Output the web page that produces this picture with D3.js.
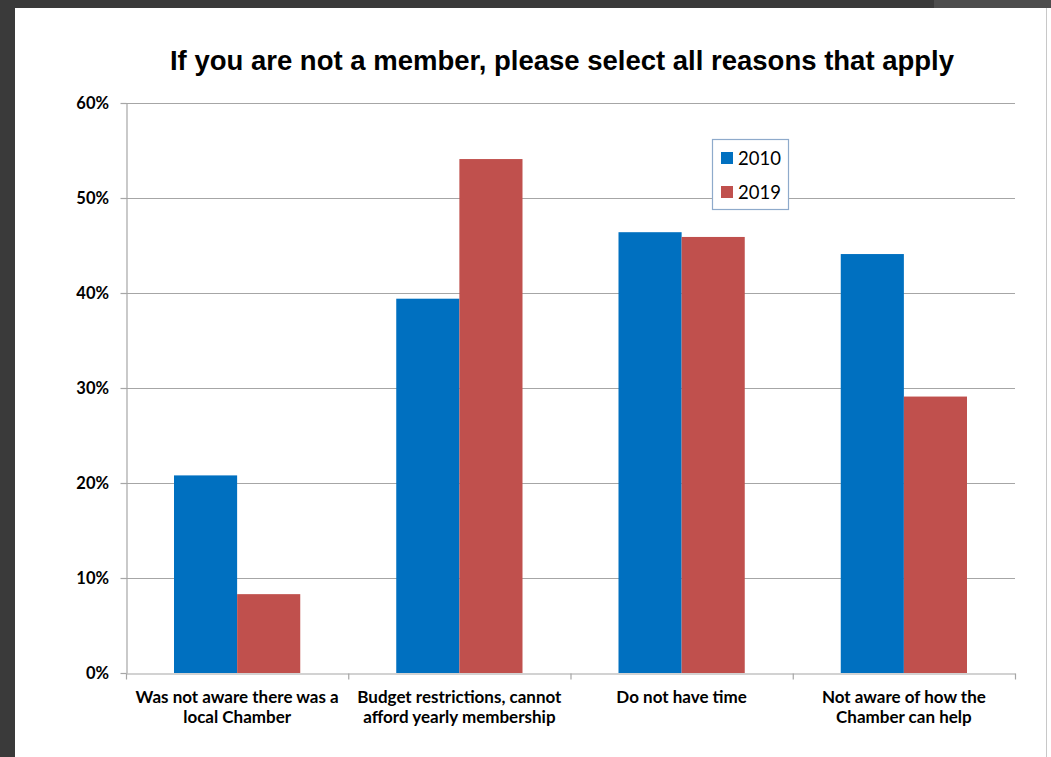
<!DOCTYPE html>
<html>
<head>
<meta charset="utf-8">
<script src="https://cdn.jsdelivr.net/npm/d3@7/dist/d3.min.js"></script>
<style>
  html, body { margin: 0; padding: 0; background: #3a3a3a; }
  svg { display: block; }
</style>
</head>
<body>
<svg id="chart" width="1051" height="757"></svg>
<script>
// Survey responses: reasons for not joining the Chamber
const categories = [
  ["Was not aware there was a", "local Chamber"],
  ["Budget restrictions, cannot", "afford yearly membership"],
  ["Do not have time"],
  ["Not aware of how the", "Chamber can help"]
];
const seriesNames = ["2010", "2019"];
const values2010 = [20.8, 39.4, 46.4, 44.1];
const values2019 = [8.3, 54.1, 45.9, 29.1];
const yTicks = [0, 10, 20, 30, 40, 50, 60];
const colors = ["#0070C0", "#C0504D"];

const svg = d3.select("#chart");

// page frame
svg.append("rect").attr("x", 0).attr("y", 0).attr("width", 1051).attr("height", 757).attr("fill", "#3a3a3a");
svg.append("rect").attr("x", 934).attr("y", 0).attr("width", 117).attr("height", 8).attr("fill", "#4d4d4d");
svg.append("rect").attr("x", 15).attr("y", 8).attr("width", 1036).attr("height", 749).attr("fill", "#ffffff");
svg.append("line").attr("x1", 1046.5).attr("x2", 1046.5).attr("y1", 8).attr("y2", 757)
  .attr("stroke", "#c8c8c8").attr("stroke-width", 1);

const margin = { left: 126, right: 1015, top: 103, bottom: 673 };

const x0 = d3.scaleBand()
  .domain(d3.range(categories.length))
  .range([margin.left, margin.right])
  .paddingInner(0)
  .paddingOuter(0);

const innerPad = 48 / x0.bandwidth();
const x1 = d3.scaleBand()
  .domain(seriesNames)
  .range([x0.bandwidth() * innerPad, x0.bandwidth() * (1 - innerPad)])
  .padding(0);

const y = d3.scaleLinear().domain([0, 60]).range([margin.bottom, margin.top]);

// gridlines
svg.append("g")
  .selectAll("line")
  .data(yTicks.filter(t => t > 0))
  .join("line")
  .attr("x1", margin.left).attr("x2", margin.right)
  .attr("y1", d => Math.round(y(d)) + 0.5).attr("y2", d => Math.round(y(d)) + 0.5)
  .attr("stroke", "#a6a6a6").attr("stroke-width", 1.2);

// y axis
const yAxis = d3.axisLeft(y).tickValues(yTicks).tickSize(6).tickSizeOuter(0)
  .tickFormat(d => d + "%");
const gy = svg.append("g").attr("transform", `translate(${margin.left + 0.5},0)`).call(yAxis);
gy.select(".domain").attr("stroke", "#a6a6a6").attr("stroke-width", 1.2);
gy.selectAll(".tick line").attr("stroke", "#a6a6a6").attr("stroke-width", 1.2);
gy.selectAll(".tick text")
  .attr("x", -17.5)
  .attr("font-family", "Lato, 'Open Sans', sans-serif")
  .attr("font-weight", "bold")
  .attr("font-size", 16.5)
  .attr("fill", "#000");

// bars
const data2 = categories.map((c, i) => ({ i, vals: [values2010[i], values2019[i]] }));
const groups = svg.append("g").selectAll("g")
  .data(data2).join("g")
  .attr("transform", d => `translate(${x0(d.i)},0)`);
groups.selectAll("rect")
  .data(d => d.vals.map((v, k) => ({ v, k })))
  .join("rect")
  .attr("x", d => x1(seriesNames[d.k]))
  .attr("width", x1.bandwidth())
  .attr("y", d => y(d.v))
  .attr("height", d => y(0) - y(d.v))
  .attr("fill", d => colors[d.k]);

// x axis
const xAxisScale = d3.scaleLinear().domain([0, categories.length]).range([margin.left, margin.right]);
const gx = svg.append("g").attr("transform", `translate(0,${margin.bottom + 0.5})`)
  .call(d3.axisBottom(xAxisScale).tickValues(d3.range(categories.length + 1)).tickSize(6).tickSizeOuter(0).tickFormat(""));
gx.select(".domain").attr("stroke", "#a6a6a6").attr("stroke-width", 1.2);
gx.selectAll(".tick line").attr("stroke", "#a6a6a6").attr("stroke-width", 1.2);

// category labels
const labels = svg.append("g").selectAll("text")
  .data(categories).join("text")
  .attr("x", (d, i) => x0(i) + x0.bandwidth() / 2)
  .attr("y", 703)
  .attr("text-anchor", "middle")
  .attr("font-family", "Lato, 'Open Sans', sans-serif")
  .attr("font-weight", "bold")
  .attr("font-size", 17)
  .attr("fill", "#000");
labels.selectAll("tspan")
  .data(d => d).join("tspan")
  .attr("x", function () { return d3.select(this.parentNode).attr("x"); })
  .attr("dy", (d, k) => k === 0 ? 0 : 20)
  .text(d => d);

// title
svg.append("text")
  .attr("x", 562).attr("y", 70)
  .attr("text-anchor", "middle")
  .attr("font-family", "'Liberation Sans', Arial, sans-serif")
  .attr("font-weight", "bold")
  .attr("font-size", 27.5)
  .attr("fill", "#000")
  .text("If you are not a member, please select all reasons that apply");

// legend
const legend = svg.append("g").attr("transform", "translate(712.5,139.5)");
legend.append("rect").attr("width", 76).attr("height", 70)
  .attr("fill", "#fff").attr("stroke", "#8eaacb").attr("stroke-width", 1.2);
const li = legend.selectAll("g.item").data(seriesNames).join("g")
  .attr("class", "item")
  .attr("transform", (d, k) => `translate(8.5,${12.5 + k * 34})`);
li.append("rect").attr("width", 12).attr("height", 12).attr("fill", (d, k) => colors[k]);
li.append("text").attr("x", 17).attr("y", 12.5)
  .attr("font-family", "Lato, 'Open Sans', sans-serif")
  .attr("font-size", 18.5)
  .attr("fill", "#000")
  .text(d => d);
</script>
</body>
</html>
